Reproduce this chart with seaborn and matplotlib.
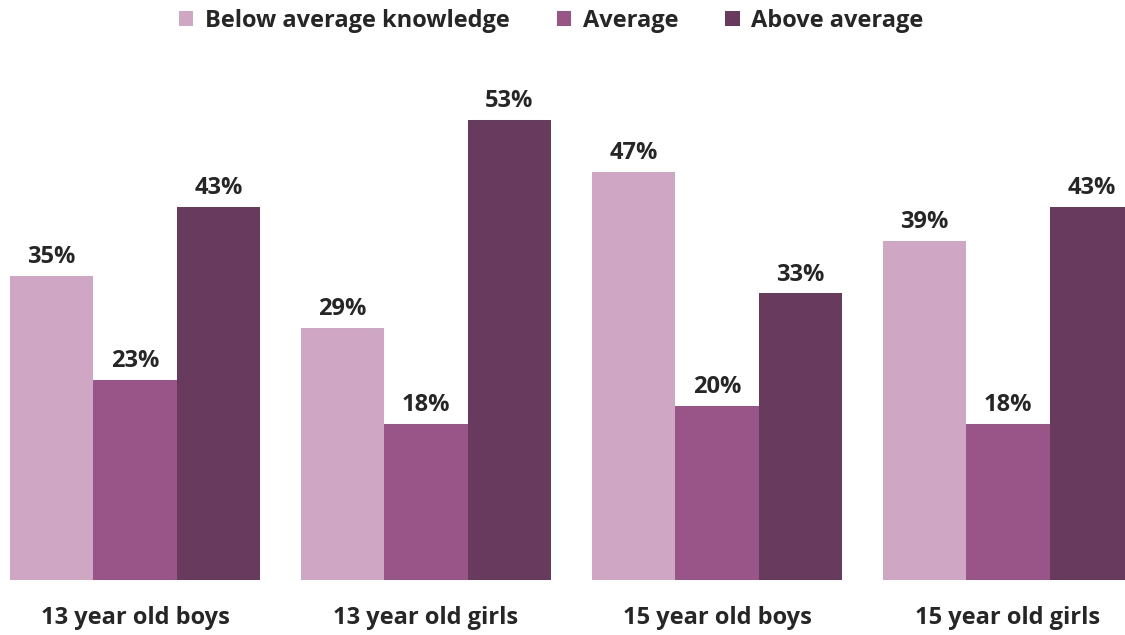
import matplotlib
matplotlib.use('Agg')
import matplotlib.pyplot as plt
import seaborn as sns
import pandas as pd
from matplotlib.patches import Patch

# chart data
groups = ['13 year old boys', '13 year old girls', '15 year old boys', '15 year old girls']
levels = ['Below average knowledge', 'Average', 'Above average']
below_avg = [35, 29, 47, 39]
average = [23, 18, 20, 18]
above_avg = [43, 53, 33, 43]
colors = ['#CFA7C5', '#9A5588', '#683A5E']

df = pd.DataFrame({
    'group': groups * 3,
    'level': [levels[0]] * 4 + [levels[1]] * 4 + [levels[2]] * 4,
    'value': below_avg + average + above_avg,
})

sns.set_style('white')
plt.rcParams['font.family'] = ['Open Sans', 'DejaVu Sans']
text_color = '#262626'

fig = plt.figure(figsize=(11.25, 6.35), dpi=100)
ax = fig.add_axes([0.0, 55 / 635, 1.0, 580 / 635])

sns.barplot(data=df, x='group', y='value', hue='level', order=groups,
            hue_order=levels, palette=colors, width=0.86, ax=ax,
            legend=False, saturation=1, linewidth=0, edgecolor='none')

for cont in ax.containers:
    ax.bar_label(cont, fmt='%d%%', padding=5, fontsize=17,
                 fontweight='bold', color=text_color)

ax.set_xlim(-0.464, 3.402)
ax.set_ylim(0, 66.8)
ax.set_xlabel('')
ax.set_ylabel('')
ax.set_yticks([])
ax.tick_params(axis='x', length=0, pad=19, labelsize=17, labelcolor=text_color)
for lbl in ax.get_xticklabels():
    lbl.set_fontweight('bold')
sns.despine(ax=ax, left=True, bottom=True)

handles = [Patch(facecolor=c, edgecolor='none') for c in colors]
leg = fig.legend(handles, levels, loc='upper center', bbox_to_anchor=(0.49, 1.02),
                 ncol=3, frameon=False, handlelength=0.6, handleheight=0.6,
                 handletextpad=0.5, columnspacing=2.0,
                 prop={'size': 17, 'weight': 'bold'})
for t in leg.get_texts():
    t.set_color(text_color)

fig.savefig('out.png', dpi=100)
plt.close(fig)
